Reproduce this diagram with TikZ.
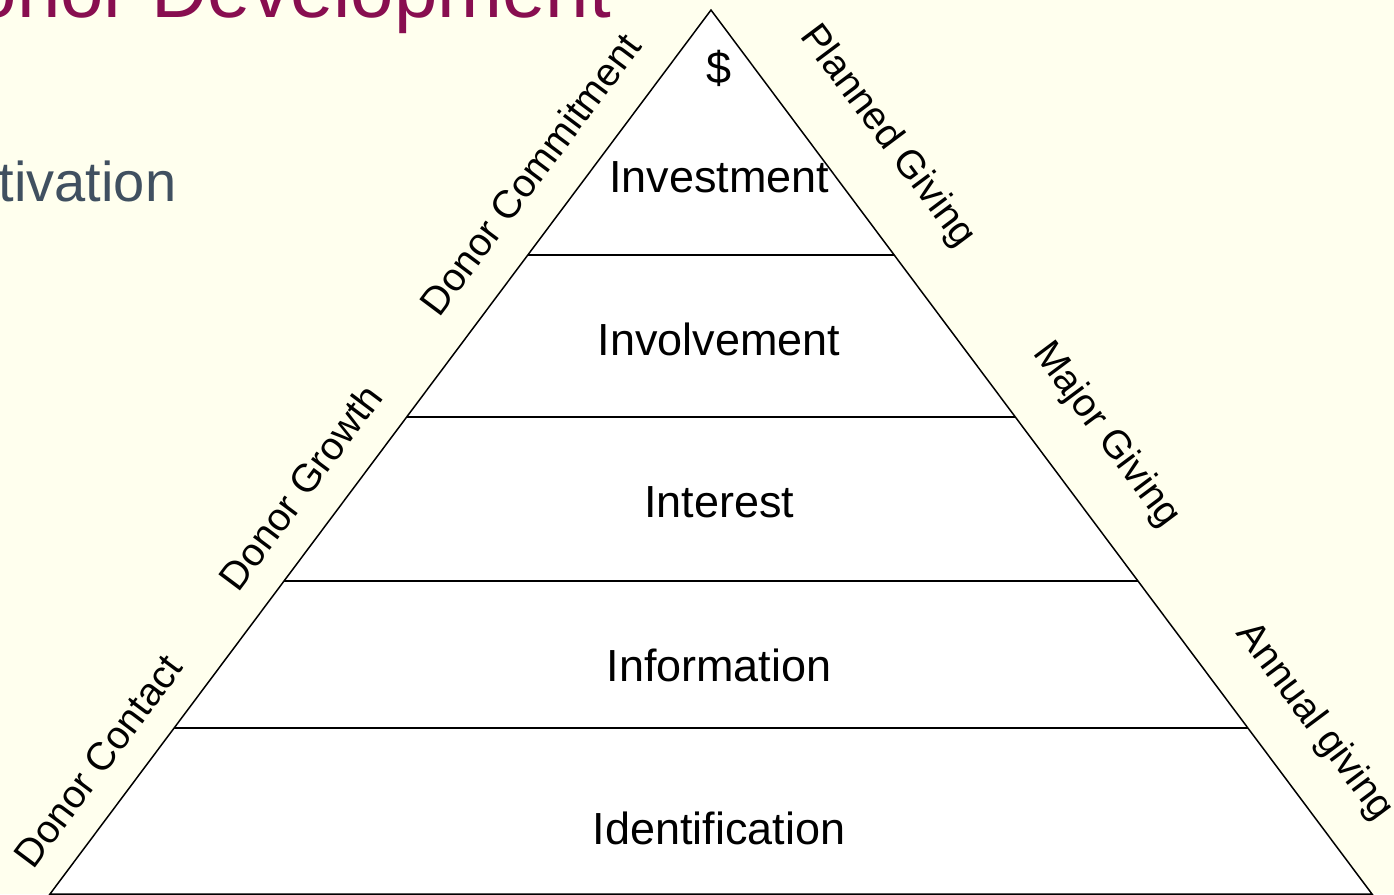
\documentclass[tikz,border=0pt]{standalone}
\usepackage{fontspec}
\setmainfont{Liberation Sans}
\usetikzlibrary{calc}

\definecolor{slidebg}{RGB}{255,255,238}
\definecolor{titlered}{RGB}{136,14,80}
\definecolor{slategrey}{RGB}{64,80,96}

\begin{document}
\begin{tikzpicture}[
            x = 0.02cm, y = -0.02cm, % one unit per pixel, y going down
            line width = 0.85pt, % line style
            line join = miter
        ]
        \tikzstyle{level}=[
            inner sep = 0pt,
            font = \fontsize{25.6}{30}\selectfont
        ]
        \tikzstyle{side}=[
            inner sep = 0pt,
            font = \fontsize{22.3}{26}\selectfont
        ]
        \clip (0,0) rectangle (1394,894);
        \fill[slidebg] (0,0) rectangle (1394,894);

        % slide heading and bullet, cut by the page edge
        \node[anchor=base east, inner sep=0pt, text=titlered, font=\fontsize{44.4}{50}\selectfont] (title) at (612,17) {Donor Development};
        \node[anchor=base east, inner sep=0pt, text=slategrey, font=\fontsize{31.9}{36}\selectfont] (bullet) at (177,201) {Cultivation};

        % pyramid
        \coordinate (top) at (711,10);
        \coordinate (bl) at (50,894);
        \coordinate (br) at (1372,894);
        \draw[fill=white] (top) -- (bl) -- (br) -- cycle;
        \foreach \t in {0.2771, 0.4604, 0.6459, 0.8122}
            \draw ($(top)!\t!(bl)$) -- ($(top)!\t!(br)$);

        \node[level] (dollar) at (719,68) {\$};
        \node[level] (invest) at (719,177) {Investment};
        \node[level] (involve) at (719,339) {Involvement};
        \node[level] (interest) at (719,502) {Interest};
        \node[level] (info) at (719,665) {Information};
        \node[level] (ident) at (719,828) {Identification};

        % labels along the sides
        \node[side, rotate=53.2] (commit) at (530,174) {Donor Commitment};
        \node[side, rotate=53.2] (growth) at (300,487) {Donor Growth};
        \node[side, rotate=53.2] (contact) at (98,761) {Donor Contact};
        \node[side, rotate=-53.2] (planned) at (887,137) {Planned Giving};
        \node[side, rotate=-53.2] (major) at (1106,435) {Major Giving};
        \node[side, rotate=-53.2] (annual) at (1314,722) {Annual giving};
    \end{tikzpicture}
\end{document}
